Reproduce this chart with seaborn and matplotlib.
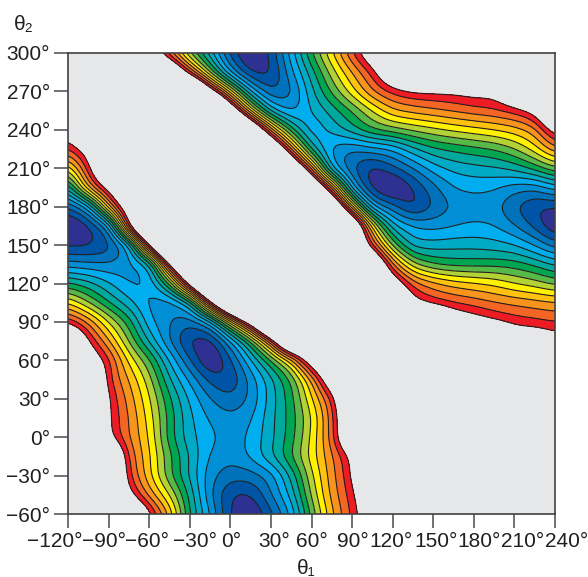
import numpy as np
import matplotlib
matplotlib.use('Agg')
import matplotlib.pyplot as plt
from matplotlib.transforms import ScaledTranslation
import seaborn as sns

# energy map, in contour steps, 15 degree grid
# G is anything above the top contour (left as plain grey), the 2x values just
# outside the steep diagonal edges keep the slope going so the contours stay straight
G = 20

theta1 = list(range(-120, 241, 15))
theta2 = list(range(-60, 301, 15))

energy = [
    [G]*4 + [15.5, 11.9, 7, 4, 0.8, -0.2, 1.6, 4.1, 8.3, 11.8, 14.2, 17] + [G]*9,
    [G]*3 + [15.5, 12.6, 10, 6.7, 3.1, 0.9, 0.8, 2.9, 5.3, 9.2, 12.4, 14.5, 18] + [G]*9,
    [G]*3 + [14.2, 11.3, 8.2, 5.8, 3.3, 2.4, 2.5, 3.4, 6.2, 9.8, 12.6, 15] + [G]*10,
    [G]*3 + [13.7, 11.2, 8.3, 5.9, 3.8, 3.3, 4.2, 5.9, 8, 10.5, 12.8, 15.3] + [G]*10,
    [G]*2 + [15.3, 13, 11, 7.4, 5.3, 4.3, 3.5, 4.2, 5.7, 7.5, 10.2, 13.4, 19] + [G]*10,
    [G]*2 + [15.1, 13, 10.6, 7.6, 5.2, 3.8, 3.2, 3.8, 5.7, 7.4, 9.9, 13.4, 19] + [G]*10,
    [G]*2 + [15, 12.6, 10.2, 7.2, 4.8, 3, 2.2, 3.1, 5.5, 7.5, 10.8, 14] + [G]*11,
    [G]*2 + [14.2, 12, 9.5, 6.1, 3.8, 1.6, 0.9, 3.3, 5.6, 8, 11.9, 17.5] + [G]*11,
    [G] + [17, 14.4, 10.7, 8.3, 4.9, 2, -0.5, 1.6, 4.8, 7.7, 10.9, 17] + [G]*12,
    [G] + [15.1, 12.2, 8.9, 5.8, 2.9, 0.6, 0.2, 3.6, 7.5, 13, 22] + [G]*10 + [17, 17, 16],
    [14.8, 12.9, 10, 7.6, 4.2, 3, 2.1, 3.9, 9.9, 16, 25, 30] + [G]*7 + [17, 16, 15.2, 14.6, 14.3, 14],
    [11, 9, 7, 5.3, 3.7, 3.2, 5.3, 14.3, 23, 30] + [G]*7 + [15.6, 14.5, 14, 13.6, 13.1, 12.8, 12.5, 12.2],
    [7.2, 6.4, 5.1, 3.8, 3.9, 7.6, 16, 25, 30] + [G]*7 + [17, 13.6, 12.4, 11.6, 11.2, 10.8, 10, 9.5, 8.7],
    [3.4, 3.2, 3.1, 3.6, 4.6, 14.8, 24, 30] + [G]*8 + [13, 9.2, 7.9, 7.5, 7.5, 7.6, 7.5, 6.8, 5.8],
    [0.7, 0.7, 1.3, 3.8, 15, 25, 30] + [G]*6 + [27, G, 14, 8.5, 5.4, 5.4, 5.6, 5.6, 5.4, 5, 3.9, 2.4],
    [-0.6, 0.5, 3, 14.8, 25, 30] + [G]*7 + [27, G, 10.5, 5.2, 4, 3.6, 3.9, 4.2, 4, 3, 1.6, -0.2],
    [1.8, 4, 12, 17.5, 22] + [G]*7 + [27, G, 11, 3.8, 2.3, 0.5, 2, 3.1, 3.4, 3.3, 2, 0.9, 0.8],
    [5.9, 12.5, 16, 20] + [G]*7 + [27, G, 12.8, 4, 0.3, -0.8, 0.9, 2.6, 4, 4.3, 4.1, 3.4, 3.2, 4.5],
    [10.2, 14.5] + [G]*8 + [27, G, 12.7, 4.3, 1.9, 0.4, 1.6, 2.9, 4.5, 5.3, 5.6, 5.8, 6.3, 7.4, 8.8],
    [14, 16] + [G]*7 + [27, G, 12.8, 6.3, 3.5, 2.9, 3.5, 4, 5.7, 6.8, 7.2, 7.6, 8, 8.9, 10.5, 12.8],
    [16] + [G]*7 + [27, G, 12.4, 7.2, 4, 5.3, 6.6, 8, 8.6, 9.2, 9.7, 10.2, 10.6, 11, 11.5, 12.5, 16],
    [G]*7 + [27, 18, 10.5, 5.2, 3.5, 5, 6.4, 8, 10, 11.9, 12.4, 12.8, 13.2, 13.6, 13.9, 14.4, 15.5] + [G],
    [G]*6 + [24, 16.5, 10.5, 4.7, 1.8, 2.6, 5.7, 8.2, 10.6, 13, 14.3, 15, 15.1, 15.2, 15.6, 15.6, 18] + [G]*2,
    [G]*6 + [14, 8.5, 3.5, 0.6, 0.6, 3.7, 6.5, 9.5, 12, 14.3, 18] + [G]*8,
    [G]*4 + [17, 13.2, 8.5, 5.3, 1.4, -0.5, 1.2, 4.5, 8, 10.9, 14, 17] + [G]*9,
]

band_colors = ['#2e3192', '#0054a6', '#0072bc', '#008fd5', '#00aeef',
               '#00a9c6', '#00a99d', '#00a651', '#57b947', '#b2d235',
               '#fff200', '#ffc20e', '#f7941d', '#f26522', '#ed1c24']
levels = [-5] + list(range(1, 16))

x_ticks = list(range(-120, 241, 30))
y_ticks = list(range(-60, 301, 30))
# the x labels are spread by hand in the original, pixels left/right of the tick
x_label_shift = [-13, -5, -2, 5, 1, 3, 0, 1, -2, 3, 5, 8, 12]

sns.set_style('ticks')
plt.rcParams['font.family'] = ['Liberation Sans', 'DejaVu Sans']

fig = plt.figure(figsize=(5.88, 5.77), dpi=100)
ax = fig.add_axes([68/588, 1 - 514/577, 487/588, 461/577])
ax.set_facecolor('#e6e7e8')


def soften(field, x, y, n=5):
    # resample onto a finer grid and run a small triangle filter so contours come out round
    fx = np.linspace(x[0], x[-1], (len(x) - 1)*n + 1)
    fy = np.linspace(y[0], y[-1], (len(y) - 1)*n + 1)
    out = np.array([np.interp(fx, x, row) for row in field])
    out = np.array([np.interp(fy, y, col) for col in out.T]).T
    kernel = np.array([1, 2, 3, 4, 3, 2, 1])/16
    pad = len(kernel)//2
    out = np.pad(out, pad, mode='edge')
    out = np.apply_along_axis(lambda v: np.convolve(v, kernel, mode='same'), 0, out)
    out = np.apply_along_axis(lambda v: np.convolve(v, kernel, mode='same'), 1, out)
    return fx, fy, out[pad:-pad, pad:-pad]


fx, fy, fine = soften(np.array(energy, dtype=float), theta1, theta2)

palette = sns.color_palette(band_colors)
ax.contourf(fx, fy, fine, levels=levels, colors=palette)
ax.contour(fx, fy, fine, levels=levels[1:], colors='#231f20', linewidths=0.8)

ax.set_xlim(-120, 240)
ax.set_ylim(-60, 300)
ax.set_xticks(x_ticks)
ax.set_yticks(y_ticks)
ax.set_xticklabels([f'{t}°'.replace('-', '\u2212') for t in x_ticks])
ax.set_yticklabels([f'{t}°'.replace('-', '\u2212') for t in y_ticks])
ax.tick_params(length=10, width=1.2, color='#58595b', labelsize=15, labelcolor='#231f20', pad=3)
for lab, dx in zip(ax.get_xticklabels(), x_label_shift):
    lab.set_transform(lab.get_transform() + ScaledTranslation(dx/100, 0, fig.dpi_scale_trans))
for s in ax.spines.values():
    s.set_color('#414042')
    s.set_linewidth(1.2)

fig.text(306/588, 1 - 568/577, '\u03b8\u2081', ha='center', va='center', fontsize=15, color='#231f20')
fig.text(24/588, 1 - 25/577, '\u03b8\u2082', ha='center', va='center', fontsize=15, color='#231f20')

fig.savefig('out.png', dpi=100)
